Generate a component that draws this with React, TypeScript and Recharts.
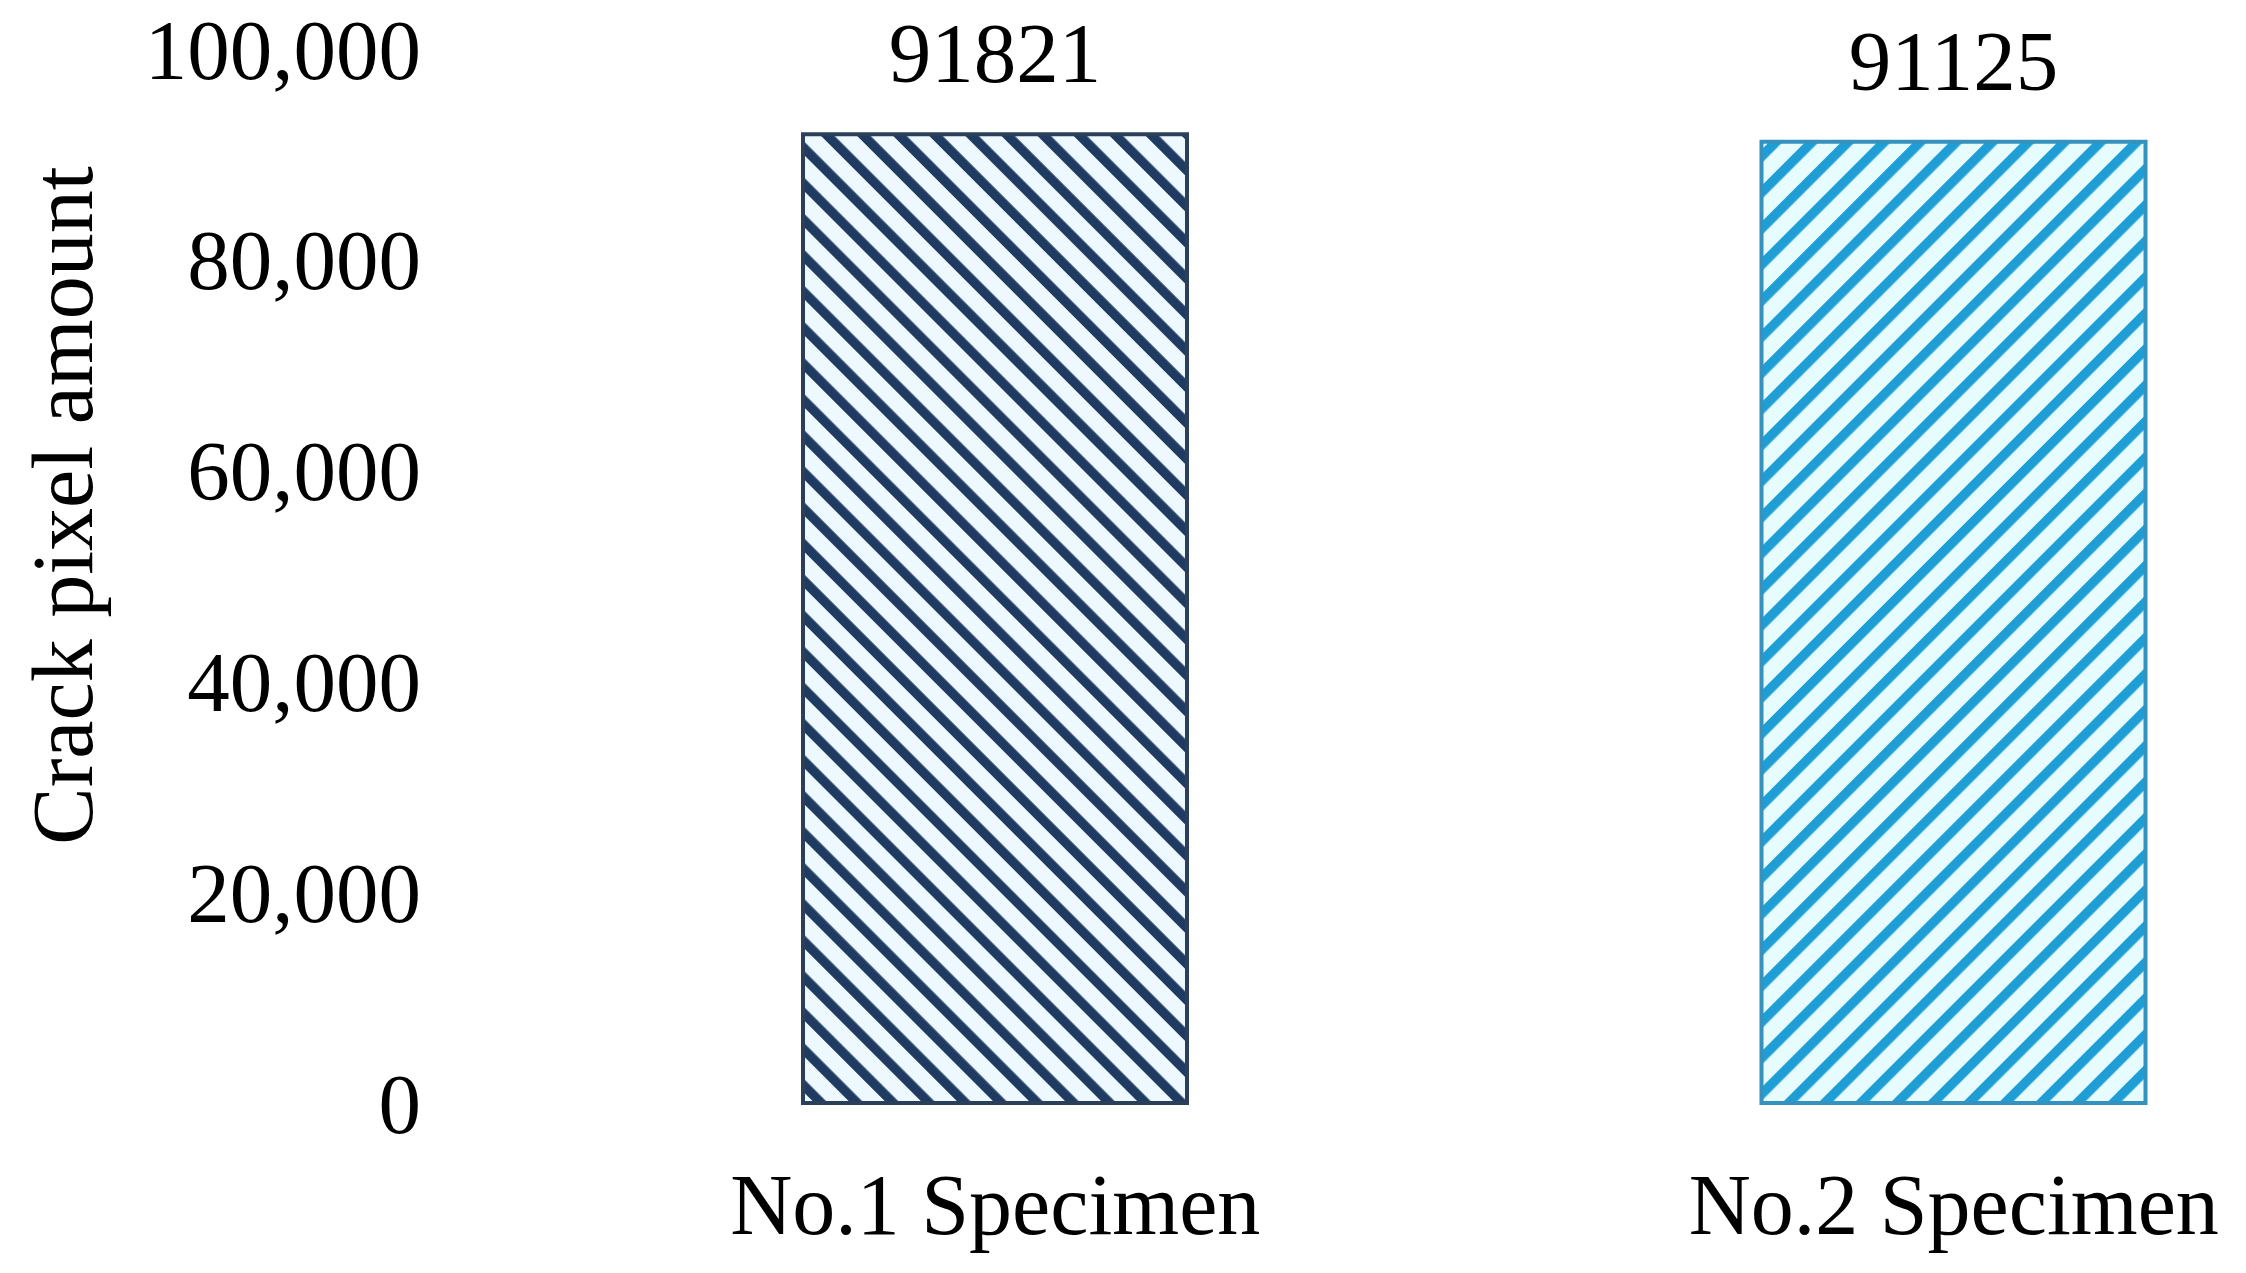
import React from 'react';
import { BarChart, Bar, XAxis, YAxis, Cell, LabelList } from 'recharts';

const specimens = ['No.1 Specimen', 'No.2 Specimen'];
const crackPixels = [91821, 91125];
const yTicks = [0, 20000, 40000, 60000, 80000, 100000];

const patternIds = ['hatchDark', 'hatchLight'];
const borderColors = ['#2B3F58', '#3591BE'];

const data = specimens.map((name, i) => ({ name, value: crackPixels[i] }));

const FONT = "'Liberation Serif', 'Times New Roman', serif";

const YLabel = (props: any) => {
  const { viewBox } = props;
  const x = viewBox.x + 92;
  const y = viewBox.y + viewBox.height / 2 - 70;
  return (
    <text
      x={x}
      y={y}
      transform={`rotate(-90, ${x}, ${y})`}
      textAnchor="middle"
      fontFamily={FONT}
      fontSize={86}
      fill="#000"
    >
      Crack pixel amount
    </text>
  );
};

export default function App() {
  return (
    <div style={{ position: 'absolute', left: 0, top: 0, width: 2246, height: 1273, background: '#fff' }}>
      <BarChart
        width={2246}
        height={1273}
        data={data}
        margin={{ top: 48, right: 0, bottom: 0, left: 0 }}
      >
        <defs>
          <pattern id="hatchDark" patternUnits="userSpaceOnUse" width={25.5} height={25.5} patternTransform="rotate(-45)">
            <rect width={25.5} height={25.5} fill="#EEF9FF" />
            <rect x={0} y={0} width={9.5} height={25.5} fill="#1F3B62" />
          </pattern>
          <pattern id="hatchLight" patternUnits="userSpaceOnUse" width={25.5} height={25.5} patternTransform="rotate(45)">
            <rect width={25.5} height={25.5} fill="#E6FCFF" />
            <rect x={0} y={0} width={9.5} height={25.5} fill="#1F9ED6" />
          </pattern>
        </defs>
        <XAxis
          dataKey="name"
          axisLine={false}
          tickLine={false}
          tickSize={0}
          tickMargin={70}
          height={170}
          interval={0}
          padding={{ left: 76, right: -187 }}
          tick={{ fontSize: 86, fontFamily: FONT, fill: '#000' }}
        />
        <YAxis
          width={440}
          domain={[0, 100000]}
          ticks={yTicks}
          axisLine={false}
          tickLine={false}
          tickSize={0}
          tickMargin={19}
          tickFormatter={(v: number) => v.toLocaleString('en-US')}
          tick={{ fontSize: 85, fontFamily: FONT, fill: '#000' }}
          label={<YLabel />}
        />
        <Bar dataKey="value" barSize={384} strokeWidth={4} isAnimationActive={false}>
          {data.map((d, i) => (
            <Cell key={d.name} fill={`url(#${patternIds[i]})`} stroke={borderColors[i]} />
          ))}
          <LabelList
            dataKey="value"
            position="top"
            offset={52}
            style={{ fontSize: 85, fontFamily: FONT, fill: '#000' }}
          />
        </Bar>
      </BarChart>
    </div>
  );
}
